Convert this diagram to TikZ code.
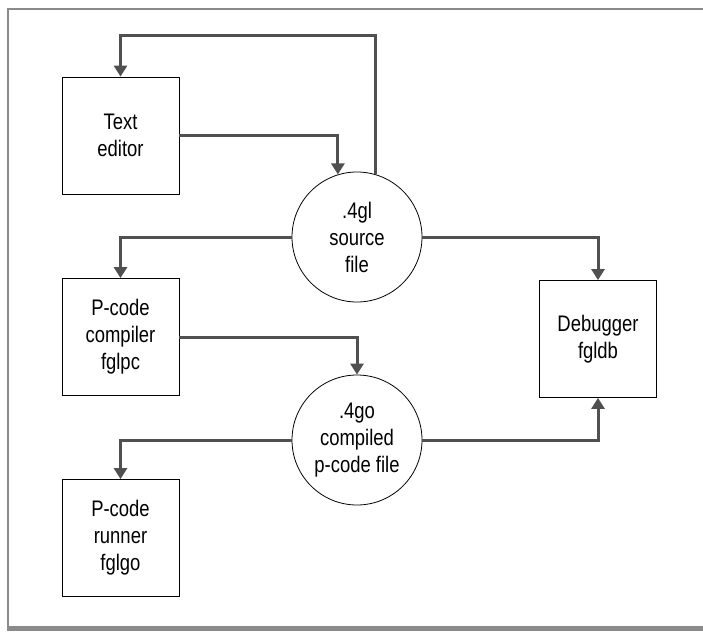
\documentclass[tikz,border=0pt]{standalone}
\usepackage{fontspec}
\setmainfont{Liberation Sans}[FakeStretch=0.82]
\usetikzlibrary{arrows.meta,calc,positioning}
\definecolor{grisflecha}{HTML}{505050}
\definecolor{grismarco}{HTML}{8A8A8A}

\begin{document}
\begin{tikzpicture}[x=1pt,y=-1pt,>={Triangle[width=13pt,length=11pt]},line join=miter,
    caja/.style={draw,line width=0.8pt,minimum width=117pt,minimum height=117pt,inner sep=0pt,align=center,font=\fontsize{22.5}{27}\selectfont},
    archivo/.style={draw,circle,line width=0.8pt,minimum size=130pt,inner sep=0pt,align=center,font=\fontsize{22.5}{27}\selectfont},
    flujo/.style={grisflecha,line width=3pt,->}]
    \useasboundingbox (0,0) rectangle (703,631);
    \draw[grismarco,line width=2pt] (703,9)--(8,9)--(8,626);
    \draw[grismarco,line width=5pt] (7,628.5)--(703,628.5);

    \node[caja] (editor) at (120.5,135.5) {Text\\editor};
    \node[caja] (compilador) at (120.5,337) {P-code\\compiler\\fglpc};
    \node[caja] (ejecutor) at (120.5,538) {P-code\\runner\\fglgo};
    \node[caja] (depurador) at (598,339) {Debugger\\fgldb};
    \node[archivo] (fuente) at (357,237) {.4gl\\source\\file};
    \node[archivo] (objeto) at (357,440) {.4go\\compiled\\p-code file};
    \coordinate (lazo) at (375,36);

    \draw[flujo] (fuente.74) |- (lazo) -| (editor.north);
    \draw[flujo] (editor.east) -| (fuente.107);
    \draw[flujo] (fuente.west) -| (compilador.north);
    \draw[flujo] (fuente.east) -| (depurador.north);
    \draw[flujo] (compilador.east) -| (objeto.north);
    \draw[flujo] (objeto.west) -| (ejecutor.north);
    \draw[flujo] (objeto.east) -| (depurador.south);
\end{tikzpicture}
\end{document}
